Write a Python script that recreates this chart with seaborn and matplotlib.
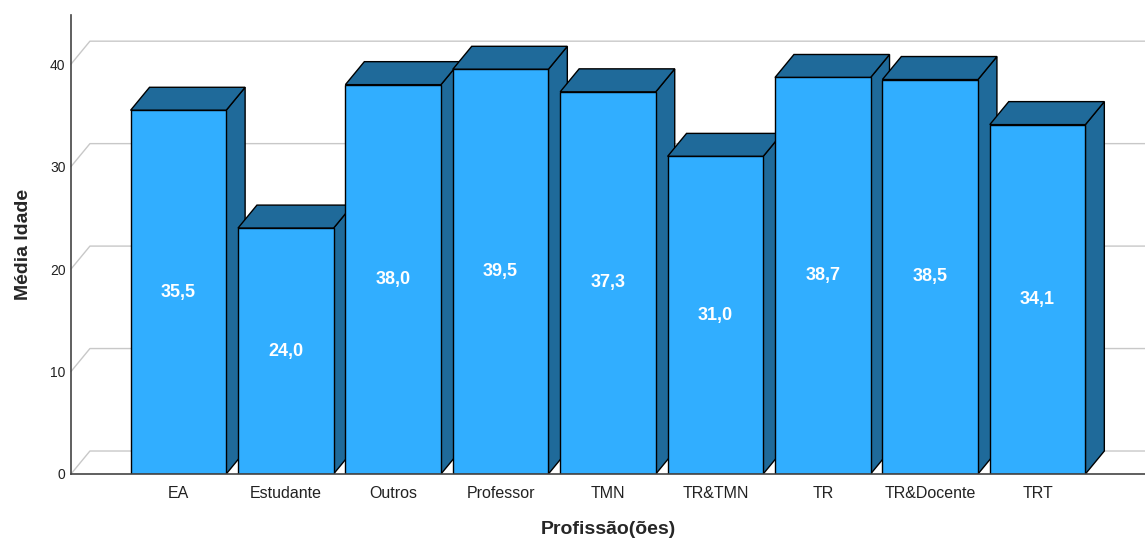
import matplotlib
matplotlib.use("Agg")
import matplotlib.pyplot as plt
import seaborn as sns
from matplotlib.patches import Polygon

sns.set_style("white")
plt.rcParams["font.family"] = ["Liberation Sans", "DejaVu Sans"]

profissoes = ["EA", "Estudante", "Outros", "Professor", "TMN",
              "TR&TMN", "TR", "TR&Docente", "TRT"]
media_idade = [35.5, 24.0, 38.0, 39.5, 37.3, 31.0, 38.7, 38.5, 34.1]
y_ticks = [0, 10, 20, 30, 40]

front = "#31AEFF"
dark = "#1F6A9A"
grid_c = "#C8C8C8"

fig = plt.figure(figsize=(11.45, 5.39), dpi=100)
ax = fig.add_axes([0.062, 0.1206, 0.938, 0.8516])

sns.barplot(x=profissoes, y=media_idade, color=front, saturation=1,
            edgecolor="black", linewidth=1, width=0.89, ax=ax)

ax.set_xlim(-1, 9)
ax.set_ylim(0, 44.8)

# depth of the fake 3d effect, in data units (about 19px right, 23px up)
dx = 19 / 107.75
dy = 23 / 10.25

# back grid lines with the little diagonal from the axis
for t in y_ticks:
    ax.plot([-1, -1 + dx, 9], [t, t + dy, t + dy], color=grid_c,
            lw=1, zorder=1, clip_on=False)

for i, p in enumerate(ax.patches):
    x0 = p.get_x()
    w = p.get_width()
    h = p.get_height()
    x1 = x0 + w
    p.set_zorder(3 + i + 0.5)
    side = Polygon([(x1, 0), (x1 + dx, dy), (x1 + dx, h + dy), (x1, h)],
                   closed=True, facecolor=dark, edgecolor="black", lw=1,
                   zorder=3 + i)
    top = Polygon([(x0, h), (x0 + dx, h + dy), (x1 + dx, h + dy), (x1, h)],
                  closed=True, facecolor=dark, edgecolor="black", lw=1,
                  zorder=3 + i)
    ax.add_patch(side)
    ax.add_patch(top)
    ax.text(x0 + w / 2, h / 2, f"{h:.1f}".replace(".", ","), color="white",
            fontsize=13, fontweight="bold", ha="center", va="center",
            zorder=20)

ax.set_yticks(y_ticks)
ax.tick_params(axis="y", length=0, pad=4, labelsize=10, labelcolor="#222222")
ax.tick_params(axis="x", length=0, pad=9, labelsize=11.5, labelcolor="#222222")

for s in ["top", "right"]:
    ax.spines[s].set_visible(False)
for s in ["left", "bottom"]:
    ax.spines[s].set_color("#444444")
    ax.spines[s].set_linewidth(1.2)
    ax.spines[s].set_zorder(30)

ax.set_ylabel("Média Idade", fontsize=14, fontweight="bold", labelpad=13)
ax.set_xlabel("Profissão(ões)", fontsize=14, fontweight="bold", labelpad=14)

fig.savefig("out.png", dpi=100)
